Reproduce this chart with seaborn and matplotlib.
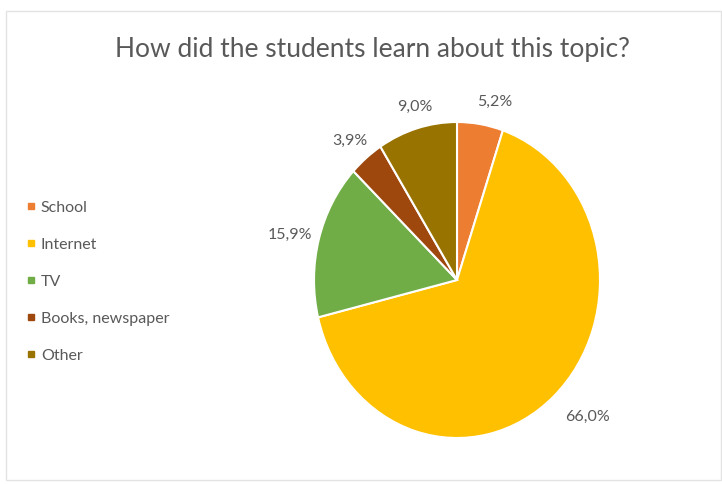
import numpy as np
import matplotlib
matplotlib.use("Agg")
import matplotlib.pyplot as plt
import seaborn as sns
from matplotlib.patches import Rectangle
from matplotlib.lines import Line2D

categories = ["School", "Internet", "TV", "Books, newspaper", "Other"]
values = [5.2, 66.0, 15.9, 3.9, 9.0]
value_labels = ["5,2%", "66,0%", "15,9%", "3,9%", "9,0%"]
colors = ["#ED7D31", "#FFC000", "#70AD47", "#9E480E", "#997300"]
title = "How did the students learn about this topic?"

sns.set_theme(style="white")
plt.rcParams["font.family"] = ["Lato", "DejaVu Sans"]

W, H = 722, 484
fig = plt.figure(figsize=(W / 100, H / 100), dpi=100)
fig.patch.set_facecolor("white")

# light chart border
fig.add_artist(Rectangle((6 / W, (H - 480) / H), (715 / W), (469 / H),
                         transform=fig.transFigure, fill=False,
                         edgecolor="#E3E3E3", linewidth=1.0))

# pie axes (slightly elliptical like the reference)
cx, cy, rx, ry = 457, 280, 143, 158
lim = 1.1
aw, ah = 2 * lim * rx, 2 * lim * ry
ax = fig.add_axes([(cx - aw / 2) / W, (H - cy - ah / 2) / H, aw / W, ah / H])
wedges, _ = ax.pie(values, colors=colors, startangle=90, counterclock=False,
                   wedgeprops=dict(edgecolor="white", linewidth=1.5))
ax.set_aspect("auto")
ax.set_xlim(-lim, lim)
ax.set_ylim(-lim, lim)
ax.axis("off")

# data labels placed just outside each wedge (Excel-like)
r_lab = 1.1
for w, lab in zip(wedges, value_labels):
    ang = np.deg2rad((w.theta1 + w.theta2) / 2)
    c, s = np.cos(ang), np.sin(ang)
    ax.annotate(lab, xy=(r_lab * c, r_lab * s), xytext=(c * 24 + 8, s * 9 - 2),
                textcoords="offset pixels", ha="center", va="center",
                fontsize=11.5, color="#595959", annotation_clip=False)

fig.text(372 / W, (H - 50) / H, title, ha="center", va="center",
         fontsize=19, color="#595959")

handles = [Line2D([0], [0], marker="s", linestyle="none", markersize=5,
                  markerfacecolor=col, markeredgecolor=col) for col in colors]
fig.legend(handles, categories, loc="upper left",
           bbox_to_anchor=(21 / W, (H - 194) / H), frameon=False,
           fontsize=11.5, labelcolor="#595959", handlelength=0.5,
           handletextpad=0.35, labelspacing=1.43, borderaxespad=0)

fig.savefig("out.png", dpi=100)
